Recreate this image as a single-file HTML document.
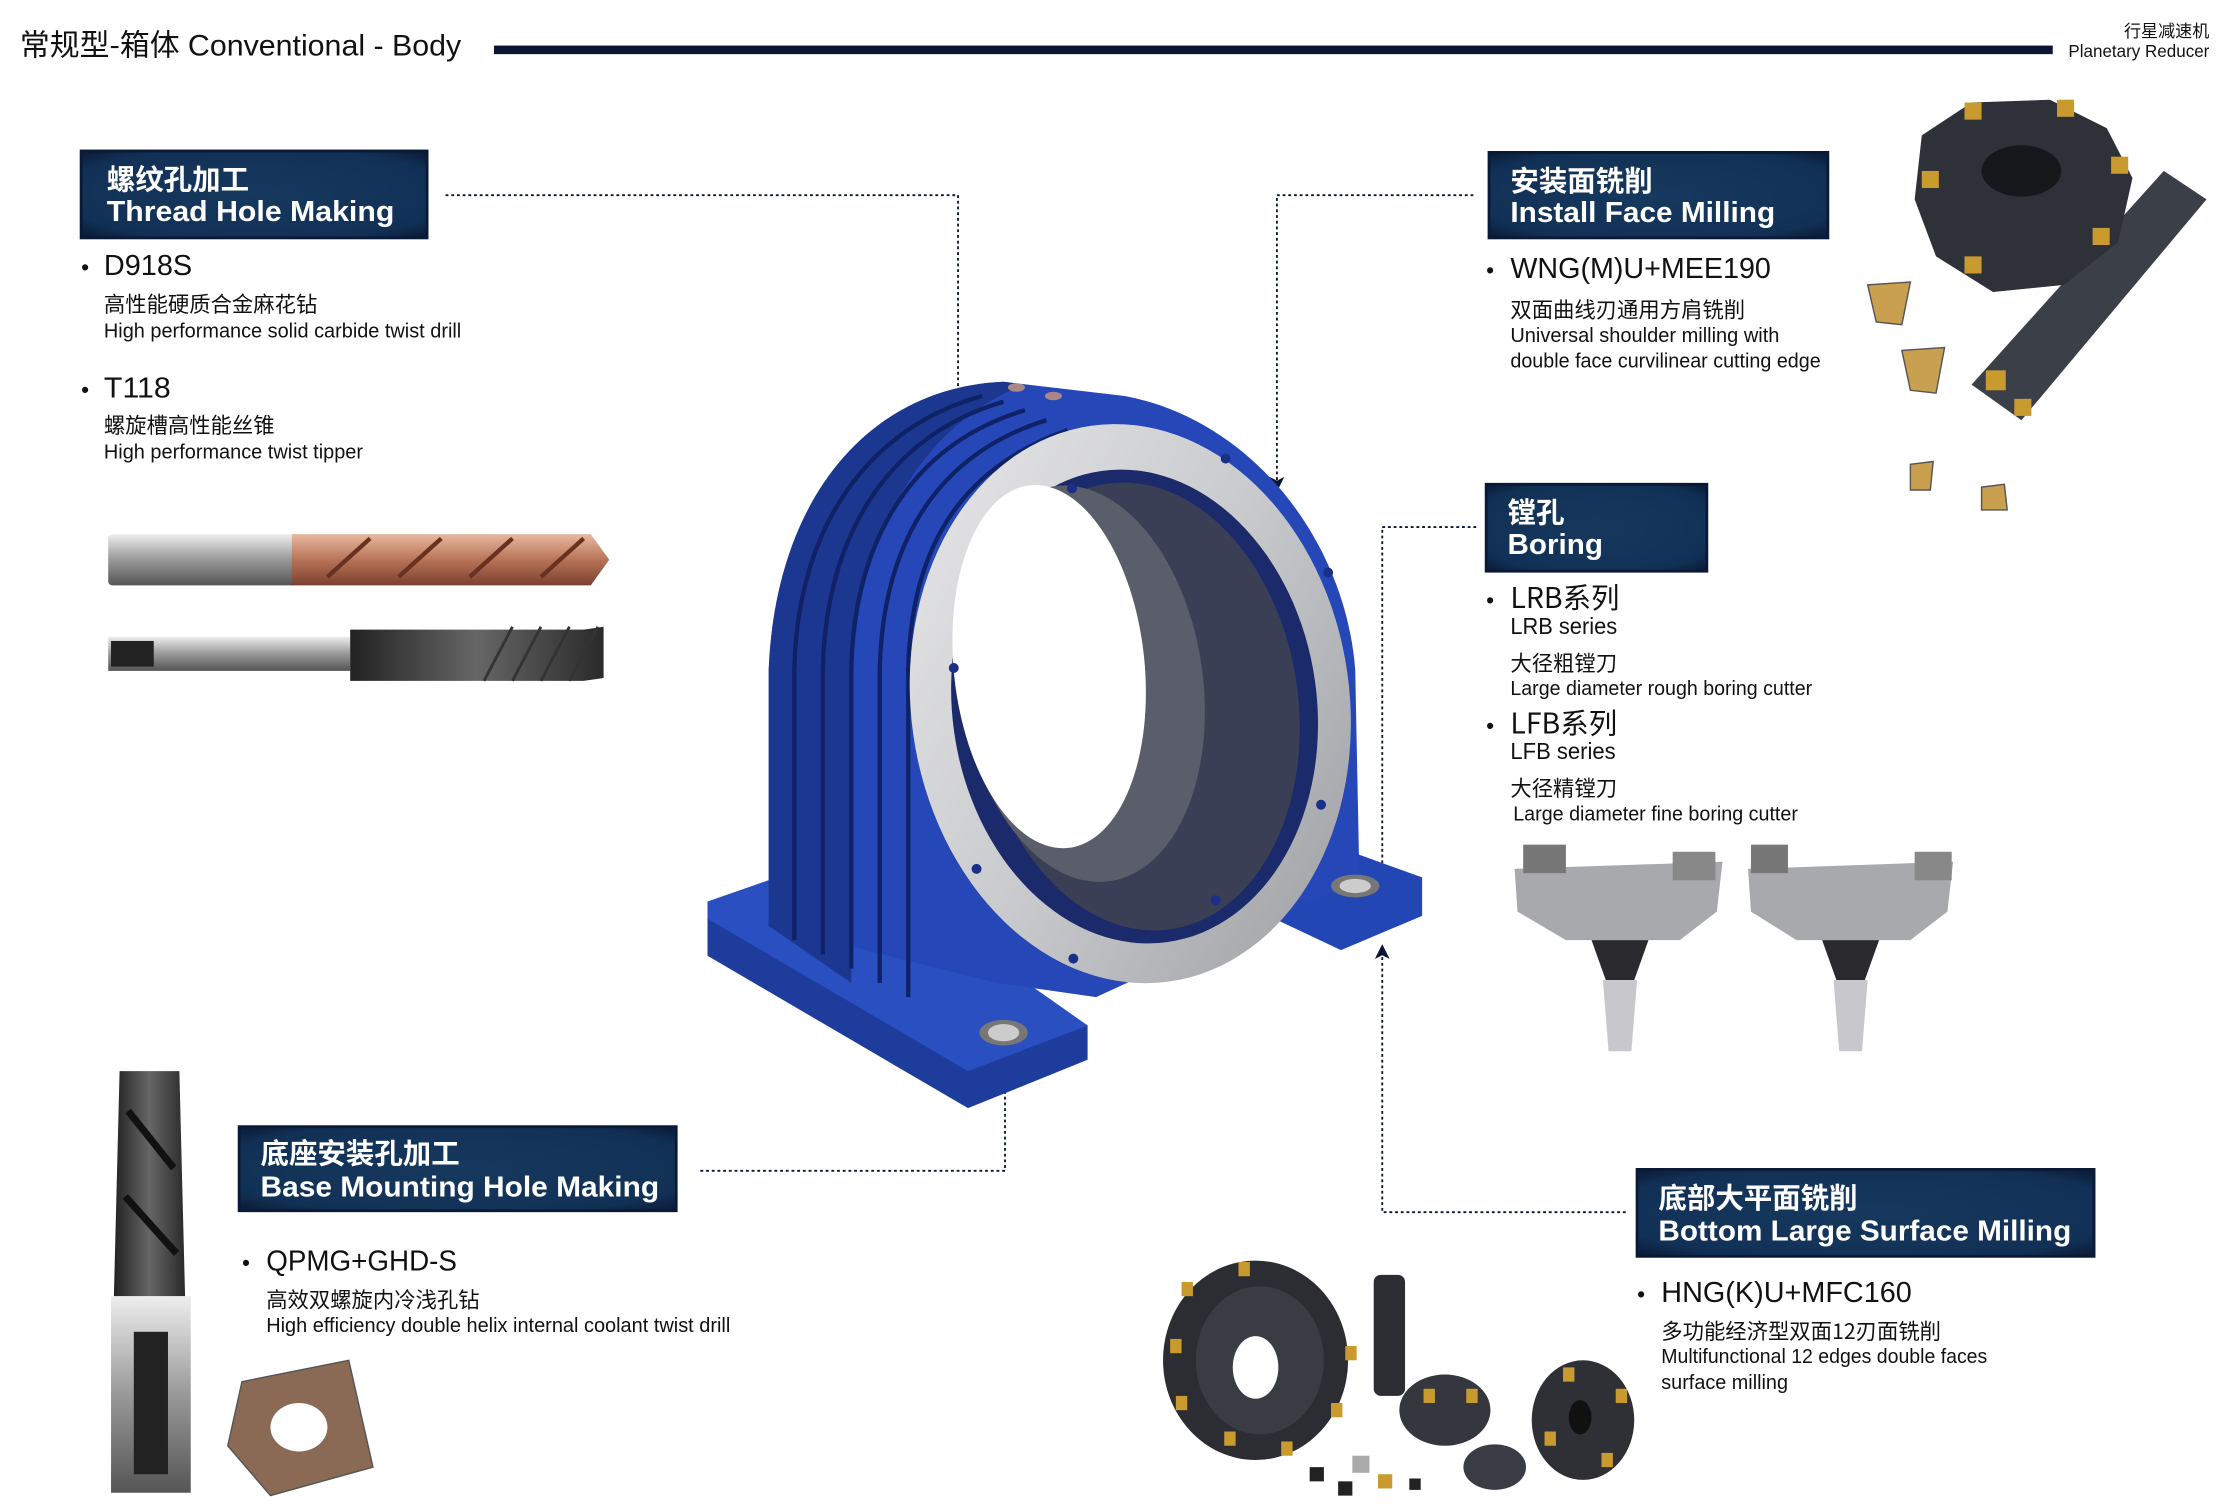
<!DOCTYPE html>
<html><head><meta charset="utf-8">
<style>
html,body{margin:0;padding:0;background:#fff;width:2225px;height:1507px;overflow:hidden}
svg{display:block}
text{font-family:"Liberation Sans","Noto Sans CJK SC",sans-serif;fill:#111}
.cn{font-family:"Noto Sans CJK SC","WenQuanYi Zen Hei",sans-serif}
.bt{fill:#fff;font-weight:bold}
</style></head>
<body>
<svg width="2225" height="1507" viewBox="0 0 1563 1058" preserveAspectRatio="none" xmlns="http://www.w3.org/2000/svg">
<defs>
<radialGradient id="bx" cx="50%" cy="50%" r="70%"><stop offset="0" stop-color="#17395e"/><stop offset="0.8" stop-color="#113055"/><stop offset="1" stop-color="#0a1a36"/></radialGradient>
<linearGradient id="ring" x1="0" y1="0" x2="1" y2="1"><stop offset="0" stop-color="#e8e8ea"/><stop offset="0.5" stop-color="#c9cacd"/><stop offset="1" stop-color="#9a9ca0"/></linearGradient>
<linearGradient id="cu" x1="0" y1="0" x2="0" y2="1"><stop offset="0" stop-color="#e8b8a0"/><stop offset="0.5" stop-color="#b87458"/><stop offset="1" stop-color="#7a4030"/></linearGradient>
<linearGradient id="st" x1="0" y1="0" x2="0" y2="1"><stop offset="0" stop-color="#eee"/><stop offset="0.5" stop-color="#999"/><stop offset="1" stop-color="#555"/></linearGradient>
<linearGradient id="dk" x1="0" y1="0" x2="1" y2="0"><stop offset="0" stop-color="#222"/><stop offset="0.5" stop-color="#666"/><stop offset="1" stop-color="#2a2a2a"/></linearGradient>
<marker id="ar" markerWidth="8" markerHeight="8" refX="4" refY="4" orient="auto"><path d="M0,0 L8,4 L0,8 L2,4z" fill="#0a1633"/></marker>
</defs>

<!-- header -->
<text x="14" y="39" font-size="21" class="cn" fill="#0d1a33">常规型-箱体</text>
<text x="132" y="39" font-size="21" textLength="192" lengthAdjust="spacingAndGlyphs" fill="#0d1a33">Conventional - Body</text>
<rect x="347" y="32" width="1095" height="6" fill="#0a1633"/>
<text x="1552" y="26" font-size="12" text-anchor="end" class="cn">行星减速机</text>
<text x="1552" y="40" font-size="12" text-anchor="end" textLength="99" lengthAdjust="spacingAndGlyphs">Planetary Reducer</text>

<!-- connectors -->
<g fill="none" stroke="#0a1633" stroke-width="1.3" stroke-dasharray="2,2">
<path d="M313,137 H673 V452" marker-end="url(#ar)"/>
<path d="M1035,137 H897 V340" marker-end="url(#ar)"/>
<path d="M1037,370 H971 V613 H752" marker-end="url(#ar)"/>
<path d="M1142,851 H971 V668" marker-end="url(#ar)"/>
<path d="M492,822 H706 V728" marker-end="url(#ar)"/>
</g>

<!-- housing -->
<g>
<polygon points="497,633 540,618 707,680 764,720 764,744 680,778 497,671" fill="#1e3c9c"/>
<polygon points="497,633 540,618 707,680 764,720 680,752 497,645" fill="#2a4fc0"/>
<polygon points="891,616 952,599 999,616 999,643 942,667 891,643" fill="#2346b5"/>
<path d="M540,650 L540,470 C545,350 610,272 705,268 L790,278 C880,295 945,380 952,470 L955,620 L900,640 L770,700 L700,690 Z" fill="#2547b8"/>
<path d="M540,650 L540,470 C545,350 610,272 705,268 L720,270 C640,300 600,390 598,480 L598,690 Z" fill="#1c3790"/>
<g stroke="#0f2266" stroke-width="3" fill="none">
<path d="M558,660 V470 C560,370 610,300 690,278"/>
<path d="M578,670 V470 C580,375 625,305 705,282"/>
<path d="M598,680 V470 C600,380 640,312 720,288"/>
<path d="M618,690 V470 C620,385 655,320 735,295"/>
<path d="M638,700 V470 C640,390 670,330 750,302"/>
</g>
<ellipse cx="714" cy="272" rx="6" ry="3" fill="#a88"/>
<ellipse cx="740" cy="278" rx="6" ry="3" fill="#a88"/>
<ellipse cx="794" cy="494" rx="154" ry="197" transform="rotate(-8 794 494)" fill="url(#ring)"/>
<ellipse cx="797" cy="496" rx="128" ry="167" transform="rotate(-8 797 496)" fill="#1a2a6a"/>
<ellipse cx="800" cy="496" rx="112" ry="158" transform="rotate(-8 800 496)" fill="#3a3f55"/>
<ellipse cx="760" cy="480" rx="85" ry="140" transform="rotate(-8 760 480)" fill="#5a5e6a"/>
<ellipse cx="737" cy="468" rx="67" ry="128" transform="rotate(-6 737 468)" fill="#fff"/>
<g fill="#1a2f88">
<circle cx="753" cy="343" r="3.5"/><circle cx="861" cy="322" r="3.5"/><circle cx="933" cy="402" r="3.5"/>
<circle cx="670" cy="469" r="3.5"/><circle cx="928" cy="565" r="3.5"/><circle cx="686" cy="610" r="3.5"/>
<circle cx="854" cy="632" r="3.5"/><circle cx="754" cy="673" r="3.5"/>
</g>
<ellipse cx="705" cy="725" rx="17" ry="9" fill="#777"/><ellipse cx="705" cy="725" rx="11" ry="6" fill="#ccc"/>
<ellipse cx="952" cy="622" rx="17" ry="8" fill="#777"/><ellipse cx="952" cy="622" rx="11" ry="5" fill="#ccc"/>
</g>

<!-- box 1 -->
<rect x="57" y="106" width="243" height="61" fill="url(#bx)" stroke="#0a1a36" stroke-width="2"/>
<text x="75" y="133" font-size="20" class="cn bt">螺纹孔加工</text>
<text x="75" y="155" font-size="20" class="bt" textLength="202" lengthAdjust="spacingAndGlyphs">Thread Hole Making</text>
<text x="57" y="193" font-size="16">•</text>
<text x="73" y="193" font-size="20" textLength="62" lengthAdjust="spacingAndGlyphs">D918S</text>
<text x="73" y="219" font-size="15" class="cn">高性能硬质合金麻花钻</text>
<text x="73" y="237" font-size="14" textLength="251" lengthAdjust="spacingAndGlyphs">High performance solid carbide twist drill</text>
<text x="57" y="279" font-size="16">•</text>
<text x="73" y="279" font-size="20" textLength="47" lengthAdjust="spacingAndGlyphs">T118</text>
<text x="73" y="304" font-size="15" class="cn">螺旋槽高性能丝锥</text>
<text x="73" y="322" font-size="14" textLength="182" lengthAdjust="spacingAndGlyphs">High performance twist tipper</text>
<rect x="76" y="375" width="132" height="36" rx="3" fill="url(#st)"/>
<path d="M205,375 H415 L428,393 L415,411 H205 Z" fill="url(#cu)"/>
<g stroke="#6a3020" stroke-width="3" fill="none"><path d="M230,405 L260,378"/><path d="M280,405 L310,378"/><path d="M330,405 L360,378"/><path d="M380,405 L410,378"/></g>
<rect x="76" y="447" width="170" height="24" fill="url(#st)"/>
<rect x="78" y="450" width="30" height="18" fill="#222"/>
<path d="M246,442 H410 L424,440 V476 L410,478 H246 Z" fill="url(#dk)"/>
<g stroke="#333" stroke-width="2"><path d="M340,478 L360,440"/><path d="M360,478 L380,440"/><path d="M380,478 L400,440"/><path d="M400,478 L420,440"/></g>

<!-- box 2 -->
<rect x="1046" y="107" width="238" height="60" fill="url(#bx)" stroke="#0a1a36" stroke-width="2"/>
<text x="1061" y="134" font-size="20" class="cn bt">安装面铣削</text>
<text x="1061" y="156" font-size="20" class="bt" textLength="186" lengthAdjust="spacingAndGlyphs">Install Face Milling</text>
<text x="1044" y="195" font-size="16">•</text>
<text x="1061" y="195" font-size="20" textLength="183" lengthAdjust="spacingAndGlyphs">WNG(M)U+MEE190</text>
<text x="1061" y="223" font-size="15" class="cn">双面曲线刃通用方肩铣削</text>
<text x="1061" y="240" font-size="14" textLength="189" lengthAdjust="spacingAndGlyphs">Universal shoulder milling with</text>
<text x="1061" y="258" font-size="14" textLength="218" lengthAdjust="spacingAndGlyphs">double face curvilinear cutting edge</text>
<!-- face mill image -->
<path d="M1385,270 L1520,120 L1550,140 L1420,295 Z" fill="#3b3f47"/>
<path d="M1350,95 L1385,72 L1440,70 L1480,90 L1498,125 L1488,170 L1450,200 L1400,205 L1360,180 L1345,140 Z" fill="#2e3138"/>
<ellipse cx="1420" cy="120" rx="28" ry="18" fill="#15171b"/>
<g fill="#c99a2e"><rect x="1380" y="72" width="12" height="12"/><rect x="1445" y="70" width="12" height="12"/><rect x="1483" y="110" width="12" height="12"/><rect x="1470" y="160" width="12" height="12"/><rect x="1380" y="180" width="12" height="12"/><rect x="1350" y="120" width="12" height="12"/><rect x="1395" y="260" width="14" height="14"/><rect x="1415" y="280" width="12" height="12"/></g>
<g fill="#c9a050" stroke="#555"><polygon points="1312,200 1342,198 1336,228 1318,226"/><polygon points="1336,246 1366,244 1360,276 1342,274"/><polygon points="1342,326 1358,324 1356,344 1342,344"/><polygon points="1392,342 1408,340 1410,358 1392,358"/></g>

<!-- box 3 -->
<rect x="1044" y="340" width="155" height="61" fill="url(#bx)" stroke="#0a1a36" stroke-width="2"/>
<text x="1059" y="367" font-size="20" class="cn bt">镗孔</text>
<text x="1059" y="389" font-size="20" class="bt" textLength="67" lengthAdjust="spacingAndGlyphs">Boring</text>
<text x="1044" y="427" font-size="16">•</text>
<text x="1061" y="427" font-size="20" class="cn">LRB系列</text>
<text x="1061" y="445" font-size="16" textLength="75" lengthAdjust="spacingAndGlyphs">LRB series</text>
<text x="1061" y="471" font-size="15" class="cn">大径粗镗刀</text>
<text x="1061" y="488" font-size="14" textLength="212" lengthAdjust="spacingAndGlyphs">Large diameter rough boring cutter</text>
<text x="1044" y="515" font-size="16">•</text>
<text x="1061" y="515" font-size="20" class="cn">LFB系列</text>
<text x="1061" y="533" font-size="16" textLength="74" lengthAdjust="spacingAndGlyphs">LFB series</text>
<text x="1061" y="559" font-size="15" class="cn">大径精镗刀</text>
<text x="1063" y="576" font-size="14" textLength="200" lengthAdjust="spacingAndGlyphs">Large diameter fine boring cutter</text>
<g>
<path d="M1064,610 L1210,605 L1206,640 L1180,660 L1100,660 L1066,640 Z" fill="#a8a9ad"/>
<rect x="1070" y="593" width="30" height="20" fill="#777"/><rect x="1175" y="598" width="30" height="20" fill="#888"/>
<path d="M1118,660 H1158 L1148,688 H1128 Z" fill="#2a2a2e"/>
<path d="M1126,688 H1150 L1146,738 H1130 Z" fill="#c8c8cc"/>
<path d="M1228,610 L1372,605 L1368,640 L1342,660 L1262,660 L1230,640 Z" fill="#a8a9ad"/>
<rect x="1230" y="593" width="26" height="20" fill="#777"/><rect x="1345" y="598" width="26" height="20" fill="#888"/>
<path d="M1280,660 H1320 L1310,688 H1290 Z" fill="#2a2a2e"/>
<path d="M1288,688 H1312 L1308,738 H1292 Z" fill="#c8c8cc"/>
</g>

<!-- box 4 -->
<rect x="168" y="791" width="307" height="59" fill="url(#bx)" stroke="#0a1a36" stroke-width="2"/>
<text x="183" y="817" font-size="20" class="cn bt">底座安装孔加工</text>
<text x="183" y="840" font-size="20" class="bt" textLength="280" lengthAdjust="spacingAndGlyphs">Base Mounting Hole Making</text>
<text x="170" y="892" font-size="16">•</text>
<text x="187" y="892" font-size="20" textLength="134" lengthAdjust="spacingAndGlyphs">QPMG+GHD-S</text>
<text x="187" y="918" font-size="15" class="cn">高效双螺旋内冷浅孔钻</text>
<text x="187" y="935" font-size="14" textLength="326" lengthAdjust="spacingAndGlyphs">High efficiency double helix internal coolant twist drill</text>
<path d="M84,752 H126 L130,910 H80 Z" fill="url(#dk)"/>
<g stroke="#111" stroke-width="5" fill="none"><path d="M90,780 L122,820"/><path d="M88,840 L124,880"/></g>
<rect x="78" y="910" width="56" height="138" fill="url(#st)"/>
<rect x="94" y="935" width="24" height="100" fill="#222"/>
<polygon points="170,970 245,955 262,1030 190,1050 160,1015" fill="#8a6a55" stroke="#555"/>
<ellipse cx="210" cy="1002" rx="20" ry="17" fill="#fff"/>

<!-- box 5 -->
<rect x="1150" y="821" width="321" height="61" fill="url(#bx)" stroke="#0a1a36" stroke-width="2"/>
<text x="1165" y="848" font-size="20" class="cn bt">底部大平面铣削</text>
<text x="1165" y="871" font-size="20" class="bt" textLength="290" lengthAdjust="spacingAndGlyphs">Bottom Large Surface Milling</text>
<text x="1150" y="914" font-size="16">•</text>
<text x="1167" y="914" font-size="20" textLength="176" lengthAdjust="spacingAndGlyphs">HNG(K)U+MFC160</text>
<text x="1167" y="940" font-size="15" class="cn">多功能经济型双面12刃面铣削</text>
<text x="1167" y="957" font-size="14" textLength="229" lengthAdjust="spacingAndGlyphs">Multifunctional 12 edges double faces</text>
<text x="1167" y="975" font-size="14" textLength="89" lengthAdjust="spacingAndGlyphs">surface milling</text>
<g>
<ellipse cx="882" cy="955" rx="65" ry="70" fill="#2b2d33"/>
<ellipse cx="885" cy="955" rx="45" ry="52" fill="#3a3c44"/>
<ellipse cx="882" cy="960" rx="16" ry="22" fill="#fff"/>
<rect x="965" y="895" width="22" height="85" rx="5" fill="#2b2d33"/>
<ellipse cx="1015" cy="990" rx="32" ry="25" fill="#35373e"/>
<ellipse cx="1112" cy="997" rx="36" ry="42" fill="#2e3036"/>
<ellipse cx="1110" cy="995" rx="8" ry="12" fill="#111"/>
<ellipse cx="1050" cy="1030" rx="22" ry="16" fill="#3a3c44"/>
<g fill="#c99a2e"><rect x="830" y="900" width="8" height="10"/><rect x="822" y="940" width="8" height="10"/><rect x="826" y="980" width="8" height="10"/><rect x="860" y="1005" width="8" height="10"/><rect x="900" y="1012" width="8" height="10"/><rect x="935" y="985" width="8" height="10"/><rect x="945" y="945" width="8" height="10"/><rect x="870" y="886" width="8" height="10"/><rect x="1098" y="960" width="8" height="10"/><rect x="1135" y="975" width="8" height="10"/><rect x="1125" y="1020" width="8" height="10"/><rect x="1085" y="1005" width="8" height="10"/><rect x="1000" y="975" width="8" height="10"/><rect x="1030" y="975" width="8" height="10"/></g>
<g fill="#222"><rect x="920" y="1030" width="10" height="10"/><rect x="940" y="1040" width="10" height="10"/><rect x="990" y="1038" width="8" height="8"/></g>
<rect x="950" y="1022" width="12" height="12" fill="#aaa"/>
<rect x="968" y="1035" width="10" height="10" fill="#c99a2e"/>
</g>
</svg>
</body></html>
